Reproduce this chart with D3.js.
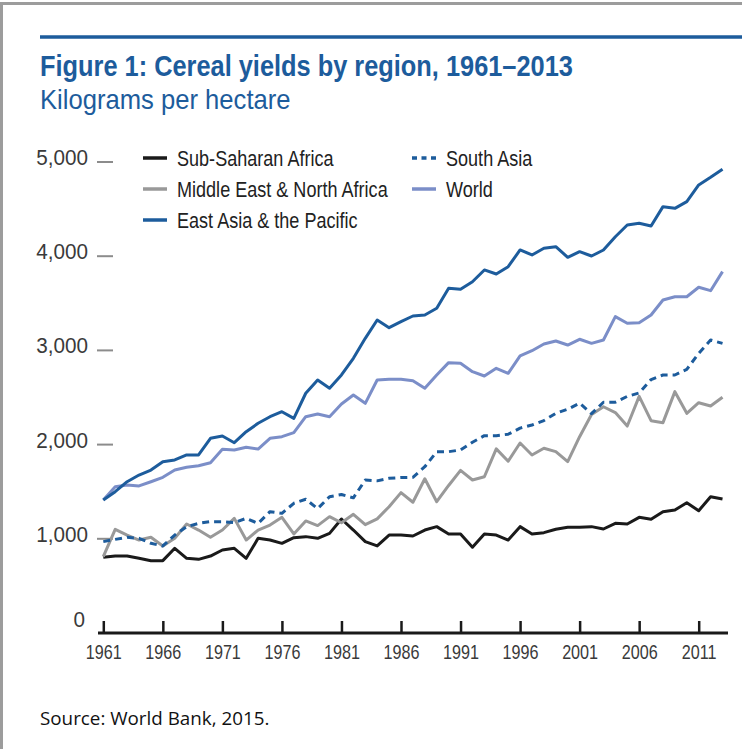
<!DOCTYPE html>
<html>
<head>
<meta charset="utf-8">
<script src="https://cdn.jsdelivr.net/npm/d3@7"></script>
<style>
  html, body { margin: 0; padding: 0; background: #fff; }
  svg { display: block; }
  text { font-family: "Liberation Sans", Arial, sans-serif; }
  text.source { font-family: "Open Sans", "Noto Sans", sans-serif; }
</style>
</head>
<body>
<div id="chart"></div>
<script>
const firstYear = 1961;
const years = d3.range(firstYear, 2014);
const yTicks = [0, 1000, 2000, 3000, 4000, 5000];
const xTicks = [1961, 1966, 1971, 1976, 1981, 1986, 1991, 1996, 2001, 2006, 2011];

const subSaharan = [803,817,817,793,768,768,899,793,782,817,881,899,793,1005,987,952,1012,1023,1005,1058,
  1210,1093,970,924,1040,1040,1030,1093,1129,1051,1051,910,1051,1040,987,1129,1051,1065,1101,1122,1122,1129,1104,1164,1157,1228,1207,1288,1306,1383,1298,1447,1422];
const middleEast = [810,1101,1040,987,1016,924,1005,1157,1093,1016,1093,1217,987,1093,1146,1228,1051,1190,1140,1235,1170,
  1260,1150,1212,1341,1490,1388,1637,1394,1566,1726,1624,1659,1955,1824,2017,1890,1961,1925,1819,2084,2320,2402,2340,2197,2512,2254,2233,2562,2332,2445,2410,2502];
const eastAsia = [1412,1500,1606,1677,1730,1819,1837,1890,1890,2067,2091,2020,2137,2226,2296,2349,2279,2545,2686,2598,2739,2916,3128,3323,3241,3305,
  3365,3376,3447,3659,3648,3729,3854,3811,3889,4066,4013,4084,4101,3988,4048,4002,4066,4207,4331,4349,4321,4526,4508,4579,4756,4837,4922];
const southAsia = [970,994,1016,1005,952,924,1040,1129,1164,1182,1182,1171,1217,1164,1288,1270,1377,1420,1320,1447,
  1470,1435,1624,1615,1642,1650,1653,1765,1925,1925,1943,2025,2095,2095,2110,2175,2208,2255,2332,2375,2440,2328,2450,2450,2512,2548,2690,2739,2739,2799,2969,3110,3075];
const world = [1412,1553,1571,1561,1606,1653,1730,1759,1776,1808,1950,1943,1971,1953,2067,2084,2127,2296,2325,2296,2431,2527,2438,2686,2693,2693,
  2679,2598,2739,2870,2863,2774,2728,2810,2757,2941,2997,3068,3100,3057,3118,3075,3110,3358,3288,3294,3376,3535,3570,3570,3670,3634,3836];

const blue = "#1d5c9c";
const series = [
  { name: "Sub-Saharan Africa", values: subSaharan, color: "#1a1a1a", dash: null },
  { name: "Middle East & North Africa", values: middleEast, color: "#999999", dash: null },
  { name: "South Asia", values: southAsia, color: blue, dash: "7,5" },
  { name: "World", values: world, color: "#7b8ec8", dash: null },
  { name: "East Asia & the Pacific", values: eastAsia, color: blue, dash: null }
];

const width = 742, height = 749;
const svg = d3.select("#chart").append("svg")
  .attr("width", width)
  .attr("height", height);

// no narrow font installed, so squeeze text horizontally
function condense(sel, f) {
  sel.each(function() {
    const t = d3.select(this);
    const tx = +t.attr("x") || 0, ty = +t.attr("y") || 0;
    t.attr("x", 0).attr("y", 0)
     .attr("transform", `translate(${tx},${ty}) scale(${f},1)`);
  });
}

// frame
svg.append("path")
  .attr("d", `M1.5,${height} V3.5 H${width}`)
  .attr("fill", "none")
  .attr("stroke", "#9c9c9c")
  .attr("stroke-width", 3);

svg.append("line")
  .attr("x1", 40).attr("x2", width)
  .attr("y1", 37).attr("y2", 37)
  .attr("stroke", blue)
  .attr("stroke-width", 3.5);

svg.append("text")
  .attr("x", 40).attr("y", 76)
  .attr("fill", blue)
  .attr("font-size", 29)
  .attr("font-weight", "bold")
  .text("Figure 1: Cereal yields by region, 1961–2013")
  .call(condense, 0.875);

svg.append("text")
  .attr("x", 40).attr("y", 109)
  .attr("fill", blue)
  .attr("font-size", 28)
  .text("Kilograms per hectare")
  .call(condense, 0.915);

const x = d3.scaleLinear().domain([1961, 2011]).range([103.3, 698.7]);
const y = d3.scaleLinear().domain([0, 5000]).range([633, 162]);

// y axis: short grey dashes and labels
const yAxis = svg.append("g");
yAxis.selectAll("line")
  .data(yTicks.filter(d => d > 0))
  .enter().append("line")
  .attr("x1", 97).attr("x2", 113)
  .attr("y1", d => y(d)).attr("y2", d => y(d))
  .attr("stroke", "#8c8c8c")
  .attr("stroke-width", 2);
yAxis.selectAll("text")
  .data(yTicks)
  .enter().append("text")
  .attr("x", d => d === 0 ? 85 : 88)
  .attr("y", d => d === 0 ? y(d) - 6 : y(d) + 3)
  .attr("text-anchor", "end")
  .attr("fill", "#3a3a3a")
  .attr("font-size", 22.5)
  .text(d => d3.format(",")(d))
  .call(condense, 0.92);

// x axis
const xAxis = svg.append("g").attr("transform", `translate(0,${y(0)})`)
  .call(d3.axisBottom(x).tickValues(xTicks).tickFormat(d3.format("d")).tickSize(0).tickPadding(12));
xAxis.select(".domain").remove();
xAxis.append("line")
  .attr("x1", 98).attr("x2", 728)
  .attr("stroke", "#1a1a1a")
  .attr("stroke-width", 3);
xAxis.selectAll(".tick").append("line")
  .attr("y1", 0).attr("y2", -12)
  .attr("stroke", "#1a1a1a")
  .attr("stroke-width", 2.5);
xAxis.selectAll(".tick text")
  .attr("fill", "#3a3a3a")
  .attr("font-size", 19.5)
  .attr("transform", "scale(0.83,1)");

// lines
const line = d3.line()
  .x((d, i) => x(years[i]))
  .y(d => y(d));

svg.append("g").selectAll("path")
  .data(series)
  .enter().append("path")
  .attr("d", d => line(d.values))
  .attr("fill", "none")
  .attr("stroke", d => d.color)
  .attr("stroke-width", 3)
  .attr("stroke-linejoin", "round")
  .attr("stroke-dasharray", d => d.dash);

// legend
const legendItems = [
  { s: series[0], x: 143, y: 158 },
  { s: series[1], x: 143, y: 189 },
  { s: series[4], x: 143, y: 220 },
  { s: series[2], x: 412, y: 158 },
  { s: series[3], x: 412, y: 189 }
];
const legend = svg.append("g").selectAll("g")
  .data(legendItems)
  .enter().append("g")
  .attr("transform", d => `translate(${d.x},${d.y})`);
legend.append("line")
  .attr("x1", 0).attr("x2", 24)
  .attr("stroke", d => d.s.color)
  .attr("stroke-width", 3.5)
  .attr("stroke-dasharray", d => d.s.dash ? "5,4.5" : null);
legend.append("text")
  .attr("x", 34)
  .attr("y", 7.5)
  .attr("fill", "#222")
  .attr("font-size", 21.5)
  .text(d => d.s.name)
  .call(condense, 0.84);

svg.append("text")
  .attr("class", "source")
  .attr("x", 40).attr("y", 725)
  .attr("font-size", 19)
  .attr("fill", "#111")
  .text("Source: World Bank, 2015.")
  .call(condense, 0.99);
</script>
</body>
</html>
